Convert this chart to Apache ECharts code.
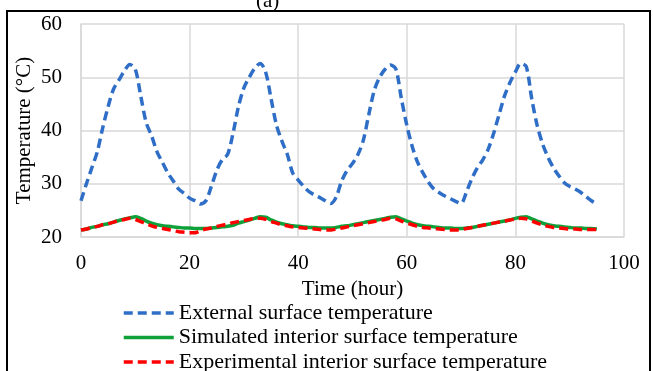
<!DOCTYPE html>
<html><head><meta charset="utf-8">
<script src="https://cdn.jsdelivr.net/npm/echarts@6/dist/echarts.min.js"></script>
<style>html,body{margin:0;padding:0;background:#fff}#c{width:653px;height:371px}</style>
</head><body><div id="c"></div>
<script>
const hours = [0,1,2,3,4,5,6,7,8,9,10,11,12,13,14,15,16,17,18,19,20,21,22,23,
24,25,26,27,28,29,30,31,32,33,34,35,36,37,38,39,40,41,42,43,44,45,46,47,
48,49,50,51,52,53,54,55,56,57,58,59,60,61,62,63,64,65,66,67,68,69,70,71,
72,73,74,75,76,77,78,79,80,81,82,83,84,85,86,87,88,89,90,91,92,93,94,95];
const external = [26.8,30,33,36,40.5,44.5,47.8,49.5,51.2,52.4,51.5,46.5,41.5,39,36,34,32,30.5,29,28.2,27.3,26.8,26.2,26.8,
29.5,32.5,34.5,35.5,39.5,44.5,48,50,51.7,52.6,51,46,41,38,35.5,32,30.7,29.5,28.5,27.9,27.4,26.8,26.3,27.5,
30.5,32.5,33.8,35.5,38.2,43,47.5,50,51.5,52.3,51.5,46,41,37,34,32,30.3,29,28.3,27.7,27.2,26.7,26.3,28.5,
31,33,34.5,36.5,39.5,43,46.5,49,51,52.6,52,46,41,37.5,35,33,31.5,30.2,29.5,29,28.4,27.6,26.8,26.2];
const simulated = [21.3,21.5,21.8,22.0,22.3,22.5,22.8,23.1,23.4,23.6,23.8,23.5,23.0,22.6,22.3,22.1,22.0,21.9,21.8,21.7,21.7,21.6,21.6,21.6,
21.7,21.8,21.9,22.0,22.2,22.6,22.9,23.2,23.5,23.8,23.7,23.2,22.8,22.5,22.3,22.1,22.0,21.9,21.8,21.8,21.7,21.7,21.7,21.8,
22.0,22.1,22.3,22.5,22.7,22.9,23.1,23.3,23.5,23.7,23.8,23.4,23.0,22.6,22.3,22.1,22.0,21.9,21.8,21.7,21.7,21.6,21.6,21.7,
21.8,22.0,22.2,22.4,22.6,22.8,23.0,23.2,23.5,23.7,23.8,23.4,23.0,22.6,22.3,22.1,22.0,21.9,21.8,21.7,21.7,21.6,21.6,21.5];
const experimental = [21.3,21.5,21.8,22.0,22.3,22.5,22.8,23.1,23.3,23.5,23.3,22.9,22.5,22.1,21.8,21.6,21.4,21.2,21.0,20.9,20.8,20.8,21.2,21.5,
21.7,22.0,22.2,22.4,22.7,22.9,23.1,23.3,23.5,23.5,23.3,22.9,22.6,22.3,22.1,21.9,21.8,21.7,21.6,21.5,21.4,21.3,21.3,21.5,
21.7,21.9,22.1,22.3,22.5,22.7,22.9,23.1,23.3,23.5,23.4,23.0,22.6,22.3,22.0,21.8,21.7,21.6,21.5,21.4,21.3,21.3,21.4,21.6,
21.8,22.0,22.2,22.4,22.6,22.8,23.0,23.2,23.4,23.5,23.4,23.0,22.6,22.3,22.0,21.8,21.7,21.6,21.5,21.5,21.4,21.4,21.4,21.4];
const seriesNames = ['External surface temperature','Simulated interior surface temperature','Experimental interior surface temperature'];

const F = 'Liberation Serif';
const pair = arr => hours.map((h,i)=>[h, arr[i]]);
const chart = echarts.init(document.getElementById('c'));
chart.setOption({
  animation:false,
  graphic:[
    {type:'rect', shape:{x:7,y:11,width:643,height:400}, style:{fill:'none',stroke:'#000',lineWidth:2}, z:100},
    {type:'text', left:256, top:-9, style:{text:'(a)', font:'21px "Liberation Serif"', fill:'#000'}}
  ],
  grid:{left:81, right:29, top:24, bottom:134},
  xAxis:{type:'value', min:0, max:100, interval:20,
    name:'Time (hour)', nameLocation:'middle', nameGap:42, nameMoveOverlap:false,
    nameTextStyle:{fontFamily:F, fontSize:21, color:'#000'},
    axisLine:{show:true, lineStyle:{color:'#d9d9d9', width:1.5}},
    axisTick:{show:false},
    axisLabel:{fontFamily:F, fontSize:21, color:'#000', margin:16},
    splitLine:{show:true, lineStyle:{color:'#d9d9d9', width:1.5}}},
  yAxis:{type:'value', min:20, max:60, interval:10,
    name:'Temperature (°C)', nameLocation:'middle', nameGap:46, nameMoveOverlap:false,
    nameTextStyle:{fontFamily:F, fontSize:21, color:'#000'},
    axisLine:{show:true, lineStyle:{color:'#d9d9d9', width:1.5}},
    axisTick:{show:false},
    axisLabel:{fontFamily:F, fontSize:21, color:'#000', margin:19},
    splitLine:{show:true, lineStyle:{color:'#d9d9d9', width:1.5}}},
  legend:{orient:'vertical', left:122, top:302, height:120, itemWidth:50, itemHeight:10, itemGap:2.5, padding:0,
    itemStyle:{opacity:0},
    lineStyle:{width:3.5},
    textStyle:{fontFamily:F, fontSize:22, lineHeight:22, color:'#000'},
    data:seriesNames},
  series:[
    {name:seriesNames[0], type:'line', data:pair(external), symbol:'none', smooth:0.3,
     lineStyle:{color:'#2F6EC6', width:3.5, type:[9,5]}, itemStyle:{color:'#2F6EC6'}},
    {name:seriesNames[1], type:'line', data:pair(simulated), symbol:'none', smooth:0.3,
     lineStyle:{color:'#0EA13A', width:3.5}, itemStyle:{color:'#0EA13A'}},
    {name:seriesNames[2], type:'line', data:pair(experimental), symbol:'none', smooth:0.3,
     lineStyle:{color:'#FF0000', width:3.5, type:[9,5]}, itemStyle:{color:'#FF0000'}}
  ]
});
</script></body></html>
